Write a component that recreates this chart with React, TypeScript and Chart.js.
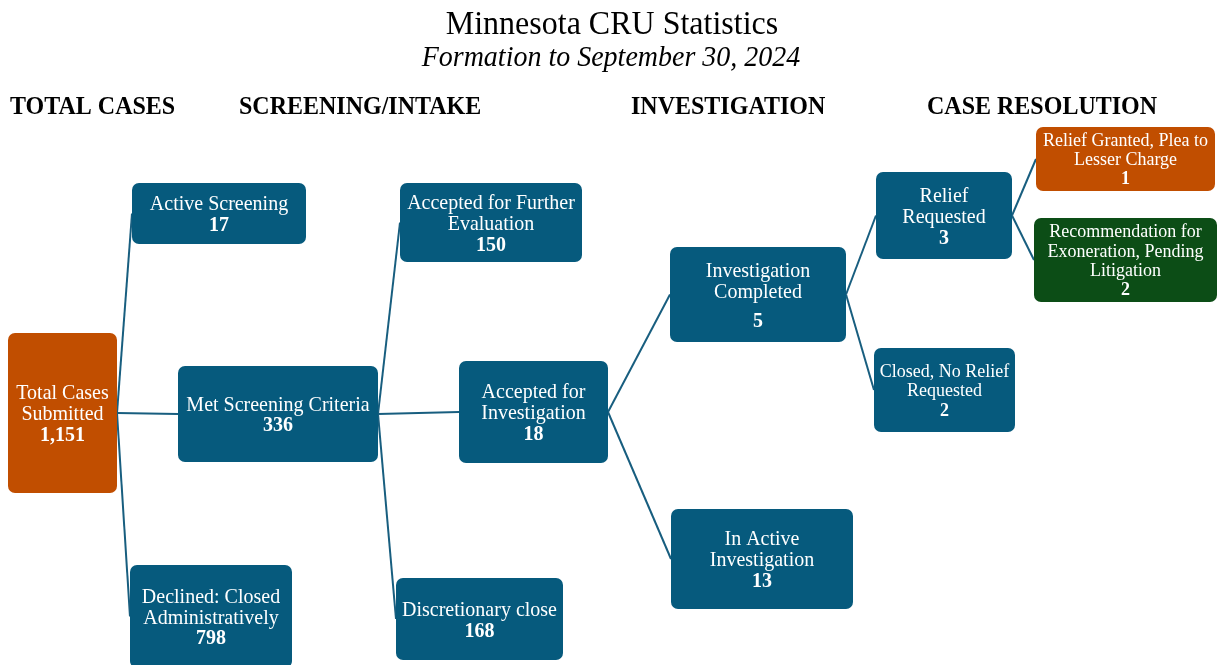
import React, { useEffect, useRef } from "react";
import { Chart, registerables } from "chart.js";

Chart.register(...registerables);

// ---------- data ----------
const chartTitle = "Minnesota CRU Statistics";
const chartSubtitle = "Formation to September 30, 2024";
const stageLabels = ["TOTAL CASES", "SCREENING/INTAKE", "INVESTIGATION", "CASE RESOLUTION"];

const nodeLabels: string[][] = [
  ["Total Cases", "Submitted"],
  ["Active Screening"],
  ["Met Screening Criteria"],
  ["Declined: Closed", "Administratively"],
  ["Accepted for Further", "Evaluation"],
  ["Accepted for", "Investigation"],
  ["Discretionary close"],
  ["Investigation", "Completed"],
  ["In Active", "Investigation"],
  ["Relief", "Requested"],
  ["Closed, No Relief", "Requested"],
  ["Relief Granted, Plea to", "Lesser Charge"],
  ["Recommendation for", "Exoneration, Pending", "Litigation"],
];
const nodeValues = [1151, 17, 336, 798, 150, 18, 168, 5, 13, 3, 2, 1, 2];
const nodeParents = [-1, 0, 0, 0, 2, 2, 2, 5, 5, 7, 7, 9, 9];

// ---------- layout & style (chart units: 0..1222 x 0..665) ----------
const stageX = [10, 239, 631, 927];
const nodeBoxes: number[][] = [
  [8, 333, 117, 493],
  [132, 183, 306, 244],
  [178, 366, 378, 462],
  [130, 565, 292, 668],
  [400, 183, 582, 262],
  [459, 361, 608, 463],
  [396, 578, 563, 660],
  [670, 247, 846, 342],
  [671, 509, 853, 609],
  [876, 172, 1012, 259],
  [874, 348, 1015, 432],
  [1036, 127, 1215, 191],
  [1034, 218, 1217, 302],
];
const nodeFontSizes = [20, 20, 20, 20, 20, 20, 20, 20, 20, 20, 18, 18, 18];
const nodeLineHeights = [21, 21, 20.5, 20.5, 21, 21, 21, 21, 21, 21, 19.5, 19, 19.3];
const nodeValueGaps = [0, 0, 0, 0, 0, 0, 0, 8, 0, 0, 0, 0, 0];
const BLUE = "#065A7D";
const ORANGE = "#C14E00";
const GREEN = "#0C4D16";
const nodeFills = [ORANGE, BLUE, BLUE, BLUE, BLUE, BLUE, BLUE, BLUE, BLUE, BLUE, BLUE, ORANGE, GREEN];
const LINE_COLOR = "#185E7F";
const SERIF = '"Liberation Serif", "Times New Roman", serif';
const TEXT_STRETCH = 1.06;

const centerY = (b: number[]) => (b[1] + b[3]) / 2;

const connectorDatasets = nodeParents
  .map((p, i) => {
    if (p < 0) return null;
    const pb = nodeBoxes[p];
    const cb = nodeBoxes[i];
    return {
      type: "scatter" as const,
      label: `${p}-${i}`,
      data: [
        { x: pb[2], y: centerY(pb) },
        { x: cb[0], y: centerY(cb) },
      ],
      showLine: true,
      borderColor: LINE_COLOR,
      borderWidth: 2,
      pointRadius: 0,
      pointHoverRadius: 0,
    };
  })
  .filter(Boolean) as any[];

function stretchedText(ctx: CanvasRenderingContext2D, t: string, x: number, y: number) {
  ctx.save();
  ctx.translate(x, y);
  ctx.scale(1, TEXT_STRETCH);
  ctx.fillText(t, 0, 0);
  ctx.restore();
}

const flowPlugin = {
  id: "flowBoxes",
  afterDatasetsDraw(chart: any) {
    const { ctx } = chart;
    const xs = chart.scales.x;
    const ys = chart.scales.y;
    const px = (v: number) => xs.getPixelForValue(v);
    const py = (v: number) => ys.getPixelForValue(v);
    ctx.save();

    // title & subtitle
    ctx.fillStyle = "#000";
    ctx.textAlign = "center";
    ctx.textBaseline = "alphabetic";
    ctx.font = `32px ${SERIF}`;
    stretchedText(ctx, chartTitle, px(612), py(34));
    ctx.font = `italic 28px ${SERIF}`;
    stretchedText(ctx, chartSubtitle, px(611), py(66));

    // stage headers
    ctx.textAlign = "left";
    ctx.font = `bold 24px ${SERIF}`;
    stageLabels.forEach((s, i) => {
      stretchedText(ctx, s, px(stageX[i]), py(113.5));
    });

    // boxes
    nodeLabels.forEach((lines, i) => {
      const b = nodeBoxes[i];
      const x0 = px(b[0]);
      const x1 = px(b[2]);
      const y0 = py(b[1]);
      const y1 = py(b[3]);
      ctx.beginPath();
      ctx.roundRect(x0, y0, x1 - x0, y1 - y0, 7);
      ctx.fillStyle = nodeFills[i];
      ctx.fill();

      const fs = nodeFontSizes[i];
      const lh = nodeLineHeights[i];
      const gap = nodeValueGaps[i];
      const n = lines.length + 1;
      const span = (n - 1) * lh + gap;
      const cy = centerY(b);
      const cx = (b[0] + b[2]) / 2;
      const first = cy - span / 2;
      ctx.fillStyle = "#FFFFFF";
      ctx.textAlign = "center";
      ctx.textBaseline = "alphabetic";
      ctx.font = `${fs}px ${SERIF}`;
      lines.forEach((t, k) => {
        stretchedText(ctx, t, px(cx), py(first + k * lh + 0.35 * fs));
      });
      ctx.font = `bold ${fs}px ${SERIF}`;
      stretchedText(
        ctx,
        nodeValues[i].toLocaleString("en-US"),
        px(cx),
        py(first + lines.length * lh + gap + 0.35 * fs)
      );
    });
    ctx.restore();
  },
};

export default function App() {
  const ref = useRef<HTMLCanvasElement | null>(null);
  useEffect(() => {
    if (!ref.current) return;
    const chart = new Chart(ref.current, {
      type: "scatter",
      data: { datasets: connectorDatasets },
      options: {
        animation: false,
        responsive: false,
        events: [],
        layout: { padding: 0 },
        plugins: {
          legend: { display: false },
          tooltip: { enabled: false },
          title: { display: false },
        },
        scales: {
          x: { type: "linear", min: 0, max: 1222, display: false },
          y: { type: "linear", min: 0, max: 665, reverse: true, display: false },
        },
      },
      plugins: [flowPlugin],
    });
    return () => chart.destroy();
  }, []);
  return (
    <div style={{ position: "absolute", left: 0, top: 0, width: 1222, height: 665, background: "#fff" }}>
      <canvas ref={ref} width={1222} height={665} style={{ display: "block" }} />
    </div>
  );
}
